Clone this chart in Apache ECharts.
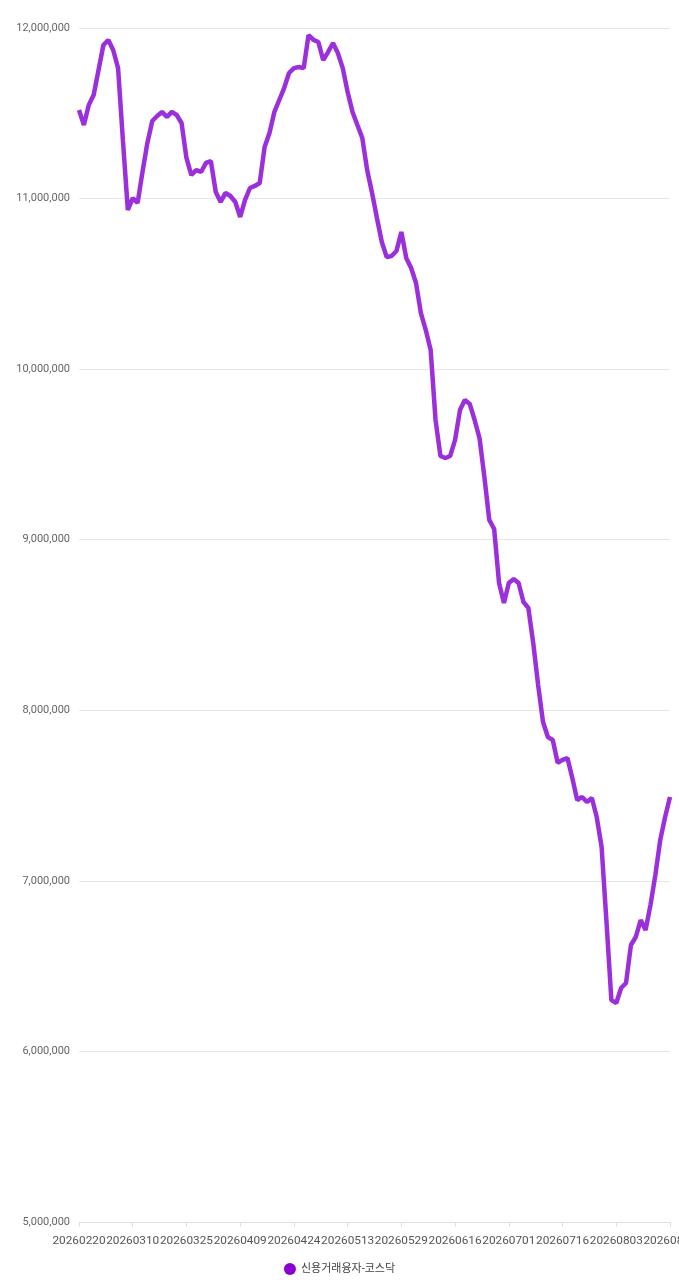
<!DOCTYPE html>
<html>
<head>
    <meta charset="utf-8">
    <title>신용거래융자-코스닥</title>
    <script src="https://cdn.jsdelivr.net/npm/echarts@6/dist/echarts.min.js"></script>
    <style>
        html, body { margin: 0; padding: 0; background: #fff; }
        #main { width: 679px; height: 1280px; }
    </style>
</head>
<body>
<div id="main"></div>
<script type="text/javascript">
    // 거래일 (x축)
    var dates = [
        '20260220','20260223','20260224','20260225','20260226','20260227','20260303','20260304','20260305','20260306','20260309',
        '20260310','20260311','20260312','20260313','20260316','20260317','20260318','20260319','20260320','20260323','20260324',
        '20260325','20260326','20260327','20260330','20260331','20260401','20260402','20260403','20260406','20260407','20260408',
        '20260409','20260410','20260413','20260414','20260415','20260416','20260417','20260420','20260421','20260422','20260423',
        '20260424','20260427','20260428','20260429','20260430','20260504','20260506','20260507','20260508','20260511','20260512',
        '20260513','20260514','20260515','20260518','20260519','20260520','20260521','20260522','20260526','20260527','20260528',
        '20260529','20260601','20260602','20260604','20260605','20260608','20260609','20260610','20260611','20260612','20260615',
        '20260616','20260617','20260618','20260619','20260622','20260623','20260624','20260625','20260626','20260629','20260630',
        '20260701','20260702','20260703','20260706','20260707','20260708','20260709','20260710','20260713','20260714','20260715',
        '20260716','20260720','20260721','20260722','20260723','20260724','20260727','20260728','20260729','20260730','20260731',
        '20260803','20260804','20260805','20260806','20260807','20260810','20260811','20260812','20260813','20260814','20260817',
        '20260818'
    ];

    // 신용거래융자 잔고 (코스닥), 원
    var kosdaqCredit = [
        11519000,11431000,11549000,11607000,11754000,11900000,11930000,11871000,11765000,11338000,10933000,
        11003000,10974000,11156000,11326000,11455000,11484000,11508000,11478000,11508000,11490000,11443000,
        11238000,11138000,11167000,11156000,11209000,11220000,11039000,10980000,11033000,11015000,10980000,
        10892000,10992000,11062000,11074000,11091000,11302000,11384000,11508000,11578000,11648000,11736000,
        11765000,11771000,11765000,11959000,11930000,11918000,11812000,11859000,11912000,11853000,11765000,
        11625000,11508000,11431000,11355000,11167000,11033000,10886000,10745000,10657000,10663000,10693000,
        10804000,10652000,10593000,10505000,10329000,10229000,10112000,9702000,9491000,9479000,9491000,
        9585000,9760000,9819000,9796000,9702000,9596000,9368000,9116000,9063000,8746000,8629000,
        8746000,8770000,8746000,8635000,8600000,8394000,8148000,7931000,7843000,7826000,7692000,
        7709000,7720000,7603000,7474000,7492000,7462000,7486000,7374000,7198000,6759000,6301000,
        6284000,6372000,6401000,6624000,6671000,6770000,6712000,6858000,7034000,7239000,7374000,
        7492000
    ];

    var seriesName = '신용거래융자-코스닥';

    var myChart = echarts.init(document.getElementById('main'));
    myChart.setOption({
        animation: false,
        textStyle: {
            fontFamily: 'Roboto, "Noto Sans CJK KR", sans-serif'
        },
        grid: {
            left: 79,
            right: 9,
            top: 28,
            bottom: 58,
            containLabel: false,
            outerBoundsMode: 'none'
        },
        legend: {
            bottom: 0,
            left: 'center',
            icon: 'circle',
            itemWidth: 12,
            itemHeight: 12,
            itemGap: 10,
            textStyle: { fontSize: 11, color: '#444' },
            data: [seriesName]
        },
        xAxis: {
            type: 'category',
            boundaryGap: false,
            data: dates,
            axisLine: { lineStyle: { color: '#e0e0e0' } },
            axisTick: { interval: 10, lineStyle: { color: '#e0e0e0' } },
            axisLabel: {
                interval: 10,
                fontSize: 11.8,
                color: '#555',
                margin: 13,
                hideOverlap: false,
                showMinLabel: true,
                showMaxLabel: true
            }
        },
        yAxis: {
            type: 'value',
            min: 5000000,
            max: 12000000,
            interval: 1000000,
            axisLine: { show: false },
            axisTick: { show: false },
            splitLine: { lineStyle: { color: '#e6e6e6' } },
            axisLabel: {
                fontSize: 11,
                color: '#666',
                margin: 9,
                formatter: function (v) { return v.toLocaleString('en-US'); }
            }
        },
        series: [{
            name: seriesName,
            type: 'line',
            data: kosdaqCredit,
            showSymbol: false,
            symbol: 'circle',
            itemStyle: { color: '#8a00d4' },
            lineStyle: { color: '#9b2fdc', width: 4.5 }
        }]
    });
</script>
</body>
</html>
